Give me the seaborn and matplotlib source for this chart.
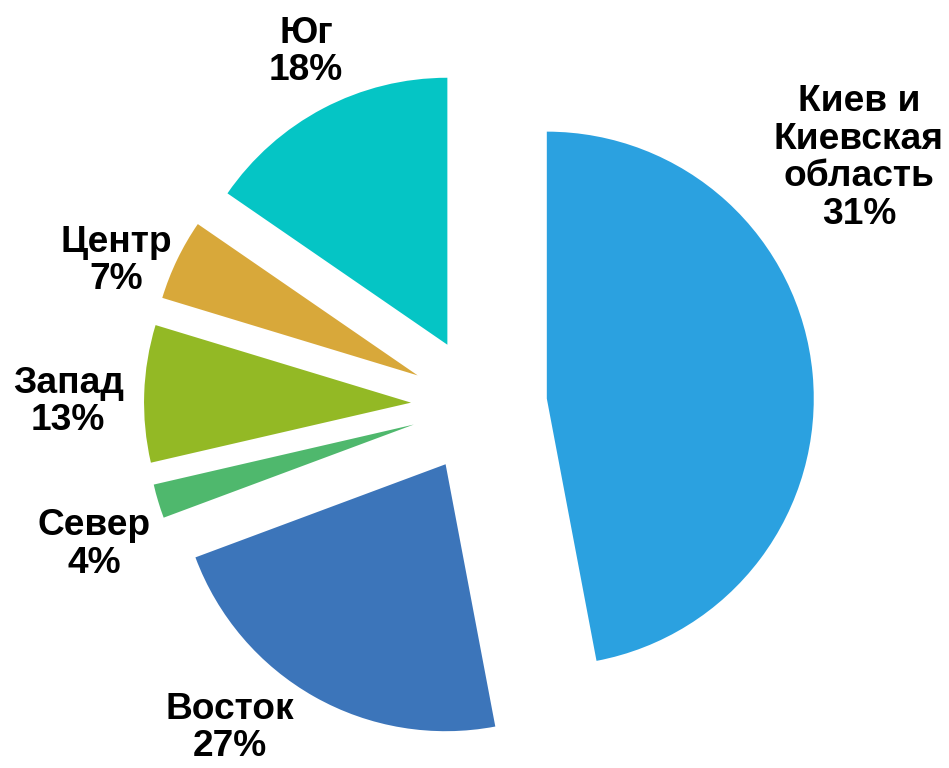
import numpy as np
import matplotlib
matplotlib.use("Agg")
import matplotlib.pyplot as plt
import seaborn as sns

# Регионы, доли секторов (по углам на картинке) и подписи в процентах
regions = ['Киев и\nКиевская\nобласть', 'Восток', 'Север', 'Запад', 'Центр', 'Юг']
slice_share = [47.0, 22.3, 2.06, 8.3, 4.9, 15.4]
label_pct = [31, 27, 4, 13, 7, 18]
colors = ['#2BA1E0', '#3C75BA', '#4FB86D', '#93B925', '#D8A83A', '#05C5C5']

# позиции подписей (в единицах радиуса, от центра круга)
label_x = [1.423, -0.933, -1.442, -1.539, -1.360, -0.648]
label_y = [0.925, -1.210, -0.524, 0.011, 0.539, 1.322]

sns.set_theme(style="white")
plt.rcParams['font.family'] = ['Liberation Sans', 'DejaVu Sans']

fig = plt.figure(figsize=(9.49, 7.68), dpi=100)
ax = fig.add_axes([0, 0, 1, 1])

ax.pie(slice_share, colors=sns.color_palette(colors), startangle=90,
       counterclock=False, explode=[0.255] * len(slice_share), radius=1,
       wedgeprops={'linewidth': 0})

for name, pct, x, y in zip(regions, label_pct, label_x, label_y):
    ax.text(x, y, f'{name}\n{pct}%', ha='center', va='center',
            fontsize=26.75, fontweight='bold', color='black', linespacing=1.1)

ax.set_xlim(-1.794, 1.760)
ax.set_ylim(-1.360, 1.517)
ax.set_aspect('equal')
ax.axis('off')

fig.savefig('out.png', dpi=100)
